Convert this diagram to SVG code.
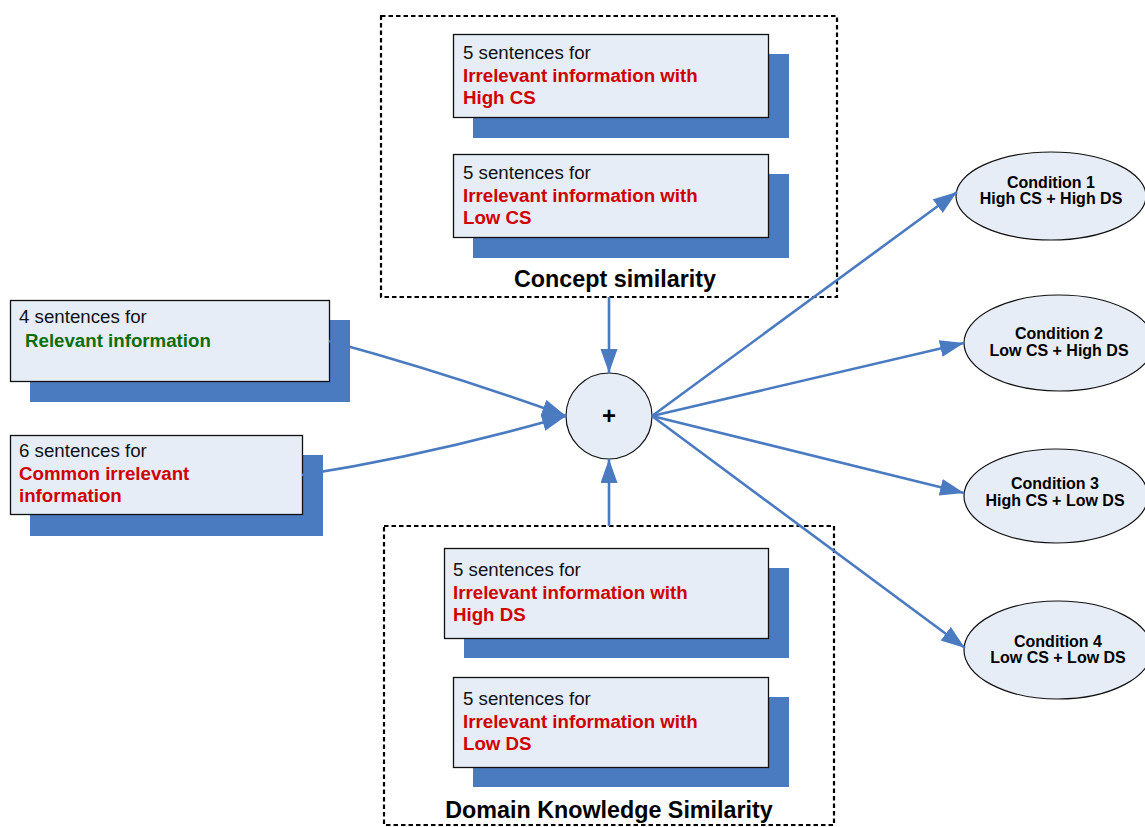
<svg xmlns="http://www.w3.org/2000/svg" width="1145" height="827" viewBox="0 0 1145 827">
<defs>
<style>
.shadow{fill:#4a7bc0}
.box{fill:#e6edf7;stroke:#111;stroke-width:1.3}
.dash{fill:none;stroke:#000;stroke-width:2.2;stroke-dasharray:4.5,3}
.t{font-family:"Liberation Sans",Arial,sans-serif;font-size:18.7px;fill:#111}
.r{font-family:"Liberation Sans",Arial,sans-serif;font-size:18.7px;font-weight:bold;fill:#d00000}
.g{font-family:"Liberation Sans",Arial,sans-serif;font-size:18.7px;font-weight:bold;fill:#0a6e0a}
.h{font-family:"Liberation Sans",Arial,sans-serif;font-size:23.3px;font-weight:bold;fill:#000;text-anchor:middle}
.c{font-family:"Liberation Sans",Arial,sans-serif;font-size:16px;font-weight:bold;fill:#000;text-anchor:middle}
.ell{fill:#e6edf7;stroke:#111;stroke-width:1.2}
.conn{fill:none;stroke:#4a7bc1;stroke-width:2.6}
</style>
<marker id="ah" markerUnits="userSpaceOnUse" markerWidth="26" markerHeight="18" refX="24" refY="8.5" orient="auto" viewBox="0 0 26 18">
<path d="M0,0 L24,8.5 L0,17 z" fill="#4a7bc1"/>
</marker>
</defs>

<g id="concept-group">
<rect class="dash" x="381" y="16" width="456" height="281"/>
<text class="h" x="615" y="287">Concept similarity</text>
</g>
<g id="cs-high">
<rect class="shadow" x="473" y="54" width="316" height="84"/>
<rect class="box" x="453.5" y="34.5" width="315" height="83"/>
<text class="t" x="463" y="59">5 sentences for</text>
<text class="r" x="463" y="82">Irrelevant information with</text>
<text class="r" x="463" y="104">High CS</text>
</g>
<g id="cs-low">
<rect class="shadow" x="473" y="174" width="316" height="84"/>
<rect class="box" x="453.5" y="154.5" width="315" height="83"/>
<text class="t" x="463" y="179">5 sentences for</text>
<text class="r" x="463" y="202">Irrelevant information with</text>
<text class="r" x="463" y="224">Low CS</text>
</g>

<g id="domain-group">
<rect class="dash" x="384" y="526" width="450" height="299"/>
<text class="h" x="609" y="818">Domain Knowledge Similarity</text>
</g>
<g id="ds-high">
<rect class="shadow" x="464" y="568" width="325" height="90"/>
<rect class="box" x="444.5" y="548.5" width="324" height="90"/>
<text class="t" x="453" y="576">5 sentences for</text>
<text class="r" x="453" y="599">Irrelevant information with</text>
<text class="r" x="453" y="621">High DS</text>
</g>
<g id="ds-low">
<rect class="shadow" x="473" y="697" width="316" height="90"/>
<rect class="box" x="453.5" y="677.5" width="315" height="90"/>
<text class="t" x="463" y="705">5 sentences for</text>
<text class="r" x="463" y="728">Irrelevant information with</text>
<text class="r" x="463" y="750">Low DS</text>
</g>

<g id="relevant">
<rect class="shadow" x="30" y="320" width="320" height="82"/>
<rect class="box" x="10.5" y="300.5" width="319" height="81"/>
<text class="t" x="19" y="323">4 sentences for</text>
<text class="g" x="25" y="347">Relevant information</text>
</g>
<g id="common">
<rect class="shadow" x="30" y="455" width="293" height="81"/>
<rect class="box" x="10.5" y="435.5" width="292" height="79"/>
<text class="t" x="19" y="457">6 sentences for</text>
<text class="r" x="19" y="480">Common irrelevant</text>
<text class="r" x="19" y="502">information</text>
</g>

<g id="combine">
<circle cx="609" cy="416" r="43" fill="#e6edf7" stroke="#111" stroke-width="1.2"/>
<text x="609" y="424" font-family="Liberation Sans, Arial, sans-serif" font-size="24" font-weight="bold" text-anchor="middle">+</text>
</g>

<g id="cond1">
<ellipse class="ell" cx="1051" cy="196" rx="95" ry="44"/>
<text class="c" x="1051" y="188">Condition 1</text>
<text class="c" x="1051" y="204">High CS + High DS</text>
</g>
<g id="cond2">
<ellipse class="ell" cx="1059" cy="343" rx="95" ry="48"/>
<text class="c" x="1059" y="339">Condition 2</text>
<text class="c" x="1059" y="356">Low CS + High DS</text>
</g>
<g id="cond3">
<ellipse class="ell" cx="1056" cy="496" rx="92" ry="47"/>
<text class="c" x="1055" y="489">Condition 3</text>
<text class="c" x="1055" y="506">High CS + Low DS</text>
</g>
<g id="cond4">
<ellipse class="ell" cx="1058" cy="650" rx="94" ry="49"/>
<text class="c" x="1058" y="647">Condition 4</text>
<text class="c" x="1058" y="663">Low CS + Low DS</text>
</g>

<g id="connectors">
<path class="conn" d="M329,341 Q450,374 566,416" marker-end="url(#ah)"/>
<path class="conn" d="M302,475 Q430,455 566,416" marker-end="url(#ah)"/>
<path class="conn" d="M609,297 L609,373" marker-end="url(#ah)"/>
<path class="conn" d="M609,526 L609,459" marker-end="url(#ah)"/>
<path class="conn" d="M652,416 L957,192" marker-end="url(#ah)"/>
<path class="conn" d="M652,416 L964,343" marker-end="url(#ah)"/>
<path class="conn" d="M652,416 L964,493" marker-end="url(#ah)"/>
<path class="conn" d="M652,416 L965,648" marker-end="url(#ah)"/>
</g>
</svg>
